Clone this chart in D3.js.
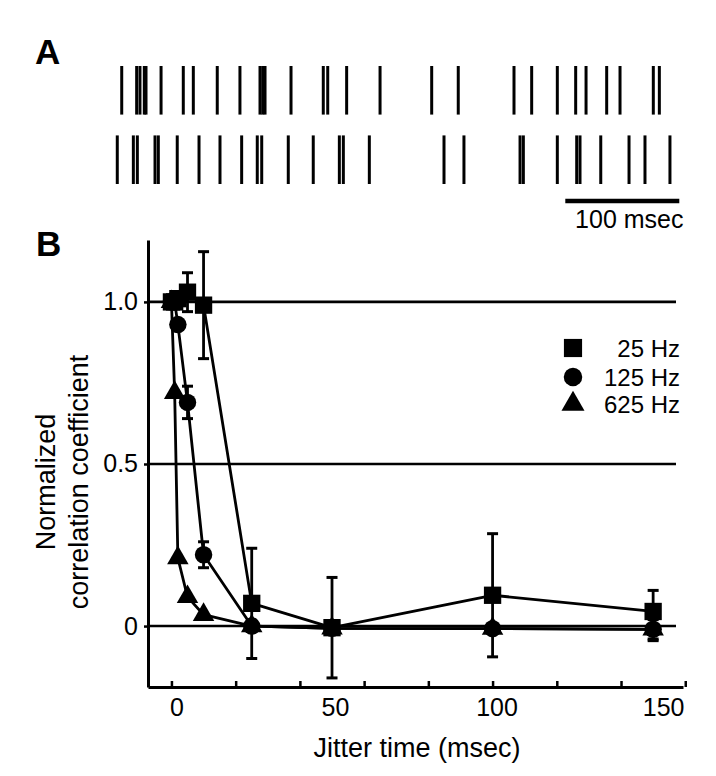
<!DOCTYPE html>
<html>
<head>
<meta charset="utf-8">
<script src="https://cdn.jsdelivr.net/npm/d3@7"></script>
<style>
  html, body { margin: 0; padding: 0; background: #fff; }
  svg { display: block; }
  text { font-family: "Liberation Sans", Arial, Helvetica, sans-serif; fill: #000; }
</style>
</head>
<body>
<svg id="chart" width="716" height="776"></svg>
<script>
// ---------- Panel A data: spike times (msec) ----------
const trials = [1, 2];
const spikesTrial1 = [5.9, 19.0, 21.9, 25.7, 27.2, 40.4, 59.9, 68.7, 89.7, 109.6, 127.2, 129.6, 131.6,
  154.4, 182.7, 186.6, 203.2, 232.5, 277.8, 301.1, 350.0, 365.5, 388.0, 404.1, 413.2, 431.3, 443.0,
  472.2, 477.5];
const spikesTrial2 = [2.0, 16.1, 19.6, 35.1, 38.0, 54.6, 73.7, 92.1, 111.1, 124.8, 128.7, 152.0,
  173.9, 196.8, 200.3, 223.1, 288.6, 306.1, 355.3, 358.2, 388.0, 405.0, 407.9, 426.1, 450.9, 464.9,
  486.8];
const scaleBarMs = [395, 495];
const scaleBarLabel = "100 msec";

// ---------- Panel B data ----------
const jitter = [0, 1, 2, 5, 10, 25, 50, 100, 150];
const seriesNames = ["25 Hz", "125 Hz", "625 Hz"];
const corr25  = [1.00, 1.00, 1.01, 1.03, 0.99, 0.07, -0.005, 0.095, 0.045];
const err25   = [0, 0, 0, 0.06, 0.165, 0.17, 0.155, 0.19, 0.065];
const corr125 = [1.00, 1.00, 0.93, 0.69, 0.22, 0.00, -0.007, -0.008, -0.01];
const err125  = [0, 0, 0, 0.05, 0.04, 0, 0, 0, 0.035];
const corr625 = [1.00, 0.72, 0.21, 0.09, 0.035, 0.00, -0.007, -0.008, -0.01];
const err625  = [0, 0, 0, 0, 0, 0, 0, 0, 0.03];
const xMinorTicks = [0, 20, 40, 60, 80, 100, 120, 140, 160];
const xLabelTicks = [0, 50, 100, 150];
const yTicks = [0, 0.5, 1.0];
const yTickLabels = ["0", "0.5", "1.0"];

const svg = d3.select("#chart");
const FONT = 25;

// ---------- Panel A ----------
const xr = d3.scaleLinear().domain([0, 500]).range([115, 685]);
const yr = d3.scaleBand().domain(trials).range([66, 184]).paddingInner(0.3);

svg.append("text").attr("x", 35).attr("y", 64)
  .attr("font-size", 35).attr("font-weight", "bold").text("A");

[spikesTrial1, spikesTrial2].forEach((sp, i) => {
  svg.append("g").selectAll("line").data(sp).join("line")
    .attr("x1", d => xr(d)).attr("x2", d => xr(d))
    .attr("y1", yr(trials[i])).attr("y2", yr(trials[i]) + yr.bandwidth())
    .attr("stroke", "#000").attr("stroke-width", 3);
});

svg.append("line")
  .attr("x1", xr(scaleBarMs[0])).attr("x2", xr(scaleBarMs[1]))
  .attr("y1", 201).attr("y2", 201)
  .attr("stroke", "#000").attr("stroke-width", 4.5);
svg.append("text").attr("x", (xr(scaleBarMs[0]) + xr(scaleBarMs[1])) / 2 + 7).attr("y", 228)
  .attr("text-anchor", "middle").attr("font-size", FONT).text(scaleBarLabel);

// ---------- Panel B ----------
svg.append("text").attr("x", 36).attr("y", 256)
  .attr("font-size", 35).attr("font-weight", "bold").text("B");

const x = d3.scaleLinear().domain([-7.3, 159.3]).range([148, 683]);
const y = d3.scaleLinear().domain([-0.188, 1.191]).range([687, 240]);

// reference lines
svg.append("g").selectAll("line").data(yTicks).join("line")
  .attr("x1", x(-7.3)).attr("x2", 676)
  .attr("y1", d => y(d)).attr("y2", d => y(d))
  .attr("stroke", "#000").attr("stroke-width", 2.6);

// x axis: minor ticks inside
const gx = svg.append("g").attr("transform", `translate(0,${y(-0.188)})`)
  .call(d3.axisBottom(x).tickValues(xMinorTicks).tickFormat("").tickSizeInner(-6).tickSizeOuter(0));
gx.select(".domain").attr("stroke-width", 3);
gx.selectAll(".tick line").attr("stroke-width", 2.5);

// x axis labels
const gxl = svg.append("g").attr("transform", `translate(0,${y(-0.188)})`)
  .call(d3.axisBottom(x).tickValues(xLabelTicks).tickSize(0).tickPadding(11));
gxl.select(".domain").remove();
gxl.selectAll(".tick text").attr("font-size", FONT).attr("font-family", null)
  .attr("dx", (d, i) => [5, 3, 4, 10][i]);

// y axis
const gy = svg.append("g").attr("transform", `translate(${x(-7.3)},0)`)
  .call(d3.axisLeft(y).tickValues(yTicks).tickFormat((d, i) => yTickLabels[i])
    .tickSizeInner(4).tickSizeOuter(0).tickPadding(6));
gy.select(".domain").attr("stroke-width", 3);
gy.selectAll(".tick line").attr("stroke-width", 2.5);
gy.selectAll(".tick text").attr("font-size", FONT).attr("font-family", null);

// axis titles
svg.append("text").attr("x", 417).attr("y", 757).attr("text-anchor", "middle")
  .attr("font-size", 27).text("Jitter time (msec)");
const yt = svg.append("text").attr("transform", "translate(0,482) rotate(-90)")
  .attr("text-anchor", "middle").attr("font-size", 27);
yt.append("tspan").attr("x", 0).attr("y", 55).text("Normalized");
yt.append("tspan").attr("x", 0).attr("y", 88).text("correlation coefficient");

// series
const series = [
  { name: seriesNames[0], vals: corr25, err: err25, sym: d3.symbolSquare, size: 300 },
  { name: seriesNames[1], vals: corr125, err: err125, sym: d3.symbolCircle, size: 240 },
  { name: seriesNames[2], vals: corr625, err: err625, sym: d3.symbolTriangle, size: 200 }
];

const line = d3.line().x(d => x(d.j)).y(d => y(d.v));

series.forEach(s => {
  const pts = jitter.map((j, i) => ({ j, v: s.vals[i], e: s.err[i] }));
  svg.append("path").datum(pts).attr("d", line)
    .attr("fill", "none").attr("stroke", "#000").attr("stroke-width", 2.8)
    .attr("stroke-linejoin", "round");
  const eb = svg.append("g").selectAll("g").data(pts.filter(p => p.e > 0)).join("g");
  eb.append("line").attr("x1", d => x(d.j)).attr("x2", d => x(d.j))
    .attr("y1", d => y(d.v + d.e)).attr("y2", d => y(d.v - d.e))
    .attr("stroke", "#000").attr("stroke-width", 2.8);
  [1, -1].forEach(sg => {
    eb.append("line").attr("x1", d => x(d.j) - 5.5).attr("x2", d => x(d.j) + 5.5)
      .attr("y1", d => y(d.v + sg * d.e)).attr("y2", d => y(d.v + sg * d.e))
      .attr("stroke", "#000").attr("stroke-width", 3);
  });
});

series.forEach(s => {
  const pts = jitter.map((j, i) => ({ j, v: s.vals[i] }));
  svg.append("g").selectAll("path").data(pts).join("path")
    .attr("transform", d => `translate(${x(d.j)},${y(d.v)})`)
    .attr("d", d3.symbol(s.sym, s.size)).attr("fill", "#000");
});

// legend
const legY = [348, 377, 404];
series.forEach((s, i) => {
  svg.append("path").attr("transform", `translate(573,${legY[i]})`)
    .attr("d", d3.symbol(s.sym, s.size + 30)).attr("fill", "#000");
  svg.append("text").attr("x", 680).attr("y", legY[i] + 9).attr("text-anchor", "end")
    .attr("font-size", 24).text(s.name);
});
</script>
</body>
</html>
